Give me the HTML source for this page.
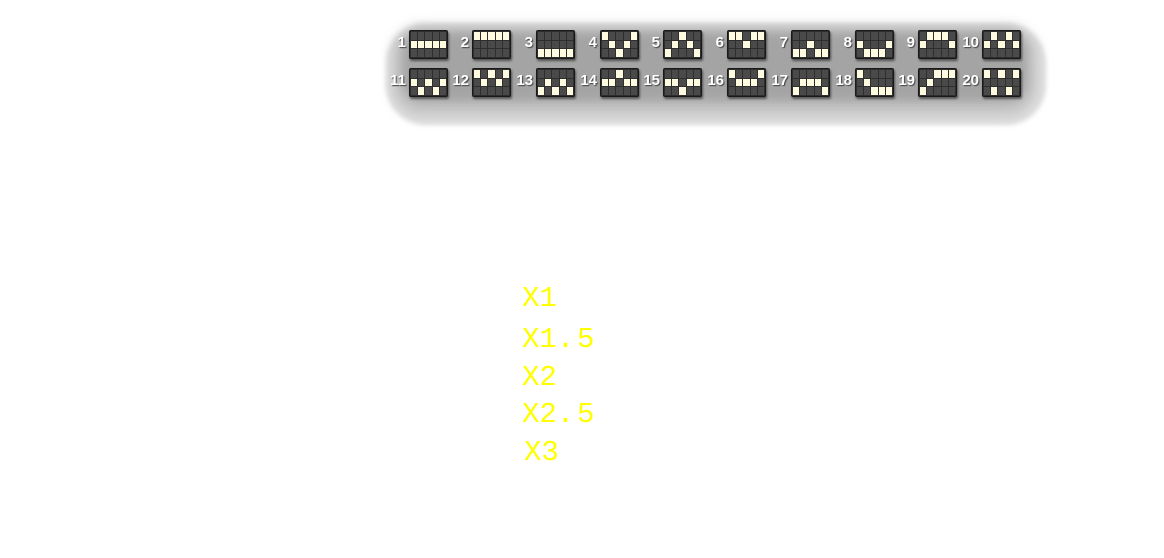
<!DOCTYPE html>
<html><head><meta charset="utf-8"><style>
body{margin:0;width:1164px;height:558px;background:#fff;position:relative;overflow:hidden;font-family:"Liberation Sans",sans-serif}
.bg0{position:absolute;left:386px;top:23px;width:660px;height:102px;background:#e0e0e0;border-radius:40px;filter:blur(2px)}
.bg{position:absolute;left:392px;top:26px;width:645px;height:90px;background:#c4c4c4;border-radius:30px;filter:blur(6px)}
.bg2{position:absolute;left:402px;top:32px;width:625px;height:70px;background:#a4a4a4;border-radius:20px;filter:blur(5px)}
.ic{position:absolute;width:35px;height:25px;background:#2e2e2e;border:1px solid #1a1a1a;border-radius:2px;box-shadow:1px 2px 2px rgba(0,0,0,.5);display:grid;grid-template-columns:repeat(5,1fr);grid-template-rows:repeat(3,1fr);gap:1px;padding:1px;box-sizing:content-box}
.ic i{background:#4a4a4a;display:block}
.ic i.on{background:#fffbe0}
.n{position:absolute;color:#fff;font-weight:bold;font-size:15px;text-shadow:1px 1px 1px #444;text-align:right;width:30px}
.y{position:absolute;color:#ffff00;font-family:"Liberation Mono",monospace;font-size:29px;line-height:30px;white-space:pre}
</style></head><body>
<div class="bg0"></div><div class="bg"></div><div class="bg2"></div>
<div id="c"></div>
<div class="y" style="left:522px;top:284px">X1</div>
<div class="y" style="left:522px;top:325px">X1.</div><div class="y" style="left:577px;top:325px">5</div>
<div class="y" style="left:522px;top:363px">X2</div>
<div class="y" style="left:522px;top:400px">X2.</div><div class="y" style="left:577px;top:400px">5</div>
<div class="y" style="left:524px;top:438px">X3</div>
<script>
var P=[[1,1,1,1,1],[0,0,0,0,0],[2,2,2,2,2],[0,1,2,1,0],[2,1,0,1,2],[0,0,1,0,0],[2,2,1,2,2],[1,2,2,2,1],[1,0,0,0,1],[1,0,1,0,1],
[1,2,1,2,1],[0,1,0,1,0],[2,1,2,1,2],[1,1,0,1,1],[1,1,2,1,1],[0,1,1,1,0],[2,1,1,1,2],[0,1,2,2,2],[2,1,0,0,0],[0,2,0,2,0]];
var X=[409,472,536,600,663,727,791,855,918,982];
var h='';
for(var k=0;k<20;k++){var x=X[k%10],y=k<10?30:68;
h+='<div class="n" style="left:'+(x-33)+'px;top:'+(y+4)+'px">'+(k+1)+'</div><div class="ic" style="left:'+x+'px;top:'+y+'px">';
for(var r=0;r<3;r++)for(var c=0;c<5;c++)h+='<i'+(P[k][c]==r?' class="on"':'')+'></i>';
h+='</div>';}
document.getElementById('c').innerHTML=h;
</script>
</body></html>
